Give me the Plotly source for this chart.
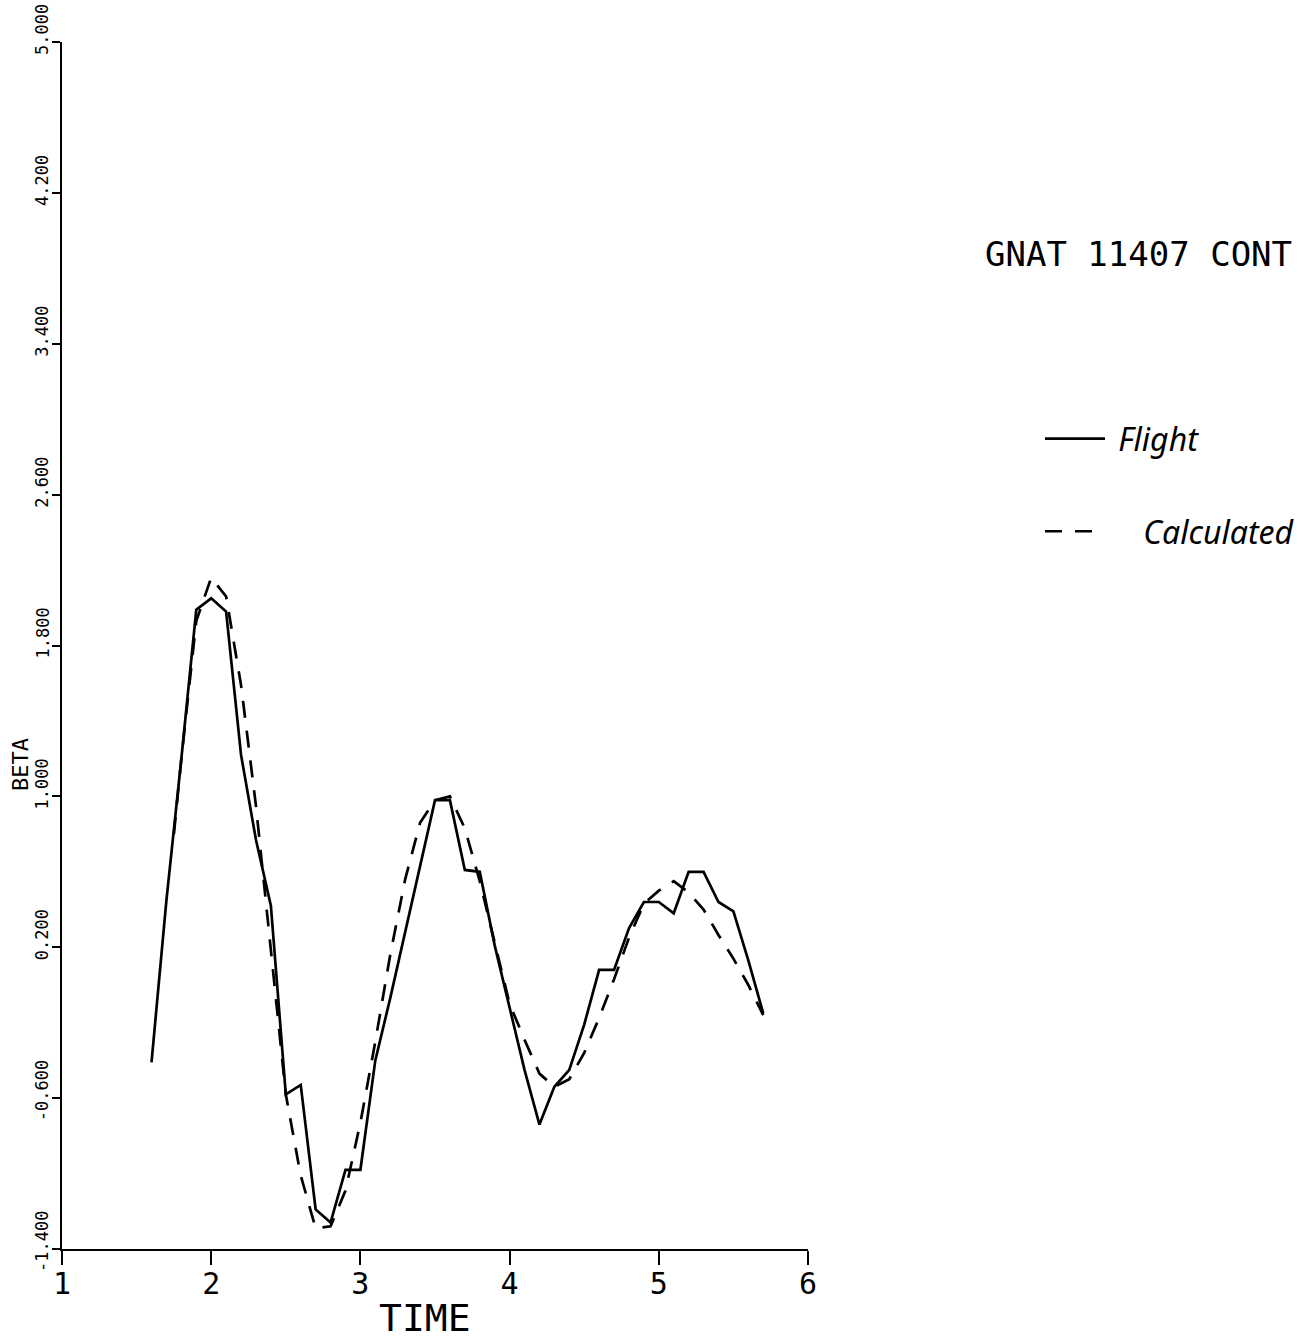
import plotly.graph_objects as go

# Sideslip response: measured flight record vs calculated model
flight_time = [1.6, 1.7, 1.8, 1.9, 2.0, 2.1, 2.2, 2.3, 2.4, 2.5, 2.6, 2.7, 2.8, 2.9,
               3.0, 3.1, 3.2, 3.3, 3.4, 3.5, 3.6, 3.7, 3.8, 3.9, 4.0, 4.1, 4.2, 4.3,
               4.4, 4.5, 4.6, 4.7, 4.8, 4.9, 5.0, 5.1, 5.2, 5.3, 5.4, 5.5, 5.6, 5.7]
flight_beta = [-0.41, 0.45, 1.20, 1.99, 2.05, 1.98, 1.22, 0.77, 0.42, -0.58, -0.53,
               -1.19, -1.26, -0.98, -0.98, -0.40, -0.07, 0.28, 0.63, 0.98, 0.98, 0.61,
               0.60, 0.21, -0.12, -0.45, -0.74, -0.54, -0.45, -0.21, 0.08, 0.08, 0.30,
               0.44, 0.44, 0.38, 0.60, 0.60, 0.44, 0.39, 0.13, -0.15]

calc_time = [1.75, 1.8, 1.9, 2.0, 2.1, 2.2, 2.3, 2.4, 2.5, 2.6, 2.7, 2.8, 2.9,
             3.0, 3.1, 3.2, 3.3, 3.4, 3.5, 3.6, 3.7, 3.8, 3.9, 4.0, 4.1, 4.2, 4.3,
             4.4, 4.5, 4.6, 4.7, 4.8, 4.9, 5.0, 5.1, 5.2, 5.3, 5.4, 5.5, 5.6, 5.7]
calc_beta = [0.80, 1.20, 1.93, 2.16, 2.06, 1.59, 0.95, 0.19, -0.58, -1.01, -1.29,
             -1.28, -1.09, -0.73, -0.30, 0.16, 0.56, 0.86, 0.98, 1.00, 0.83, 0.55,
             0.22, -0.10, -0.29, -0.47, -0.54, -0.50, -0.36, -0.175, 0.03, 0.25,
             0.43, 0.50, 0.55, 0.49, 0.40, 0.265, 0.14, 0.00, -0.16]

x_ticks = [1, 2, 3, 4, 5, 6]
y_ticks = [-1.4, -0.6, 0.2, 1.0, 1.8, 2.6, 3.4, 4.2, 5.0]
y_tick_text = ["-1.400", "-0.600", "0.200", "1.000", "1.800", "2.600", "3.400", "4.200", "5.000"]

PLOT_FONT = "DejaVu Sans Mono"
HAND_FONT = "Noto Sans"

fig = go.Figure()
fig.add_trace(go.Scatter(
    x=flight_time, y=flight_beta, mode="lines", name="&nbsp;Flight",
    legendgroup="flight",
    line=dict(color="black", width=2.7),
))
fig.add_trace(go.Scatter(
    x=calc_time, y=calc_beta, mode="lines", name="&nbsp;&nbsp;&nbsp;&nbsp;Calculated",
    legendgroup="calc",
    line=dict(color="black", width=2.7, dash="17px,13px"),
))

# rotated value labels on the BETA axis, decimal point sitting on the tick
annotations = []
for v, t in zip(y_ticks, y_tick_text):
    before_dot = len(t.split(".")[0])
    annotations.append(dict(
        x=0, xref="paper", y=v, yref="y", text=t, showarrow=False,
        textangle=-90, xanchor="center", yanchor="middle",
        xshift=-20, yshift=12 if before_dot == 1 else 7,
        font=dict(family=PLOT_FONT, size=17, color="black"),
    ))
annotations.append(dict(
    x=0, xref="paper", y=0.401, yref="paper", text="BETA", showarrow=False,
    textangle=-90, xanchor="center", yanchor="middle", xshift=-41,
    font=dict(family=PLOT_FONT, size=22, color="black"),
))
annotations.append(dict(
    x=1.2346, xref="paper", y=0.8244, yref="paper", text="GNAT 11407 CONT",
    showarrow=False, xanchor="left", yanchor="middle",
    font=dict(family=PLOT_FONT, size=34, color="black"),
))
annotations.append(dict(
    x=0.486, xref="paper", y=0, yref="paper", text="TIME", showarrow=False,
    xanchor="center", yanchor="middle", yshift=-69,
    font=dict(family=PLOT_FONT, size=38, color="black"),
))

fig.update_layout(
    width=1310, height=1342,
    margin=dict(l=62, r=502, t=42, b=93, autoexpand=False),
    paper_bgcolor="white", plot_bgcolor="white",
    showlegend=True,
    legend=dict(
        x=1.311, y=0.694, xanchor="left", yanchor="top",
        font=dict(family=HAND_FONT, size=32, color="black", style="italic"),
        itemwidth=60, tracegroupgap=48, bgcolor="rgba(0,0,0,0)",
    ),
    annotations=annotations,
    xaxis=dict(
        range=[1, 6], tickvals=x_ticks, ticktext=[str(v) for v in x_ticks],
        showline=True, linecolor="black", linewidth=2,
        ticks="outside", ticklen=14, tickwidth=2, tickcolor="black",
        showgrid=False, zeroline=False, ticklabelstandoff=-7,
        tickfont=dict(family=PLOT_FONT, size=30, color="black"),
    ),
    yaxis=dict(
        range=[-1.4, 5.0], tickvals=y_ticks, showticklabels=False,
        showline=True, linecolor="black", linewidth=2,
        ticks="outside", ticklen=8, tickwidth=2, tickcolor="black",
        showgrid=False, zeroline=False,
    ),
)

fig.write_html("out.html")
